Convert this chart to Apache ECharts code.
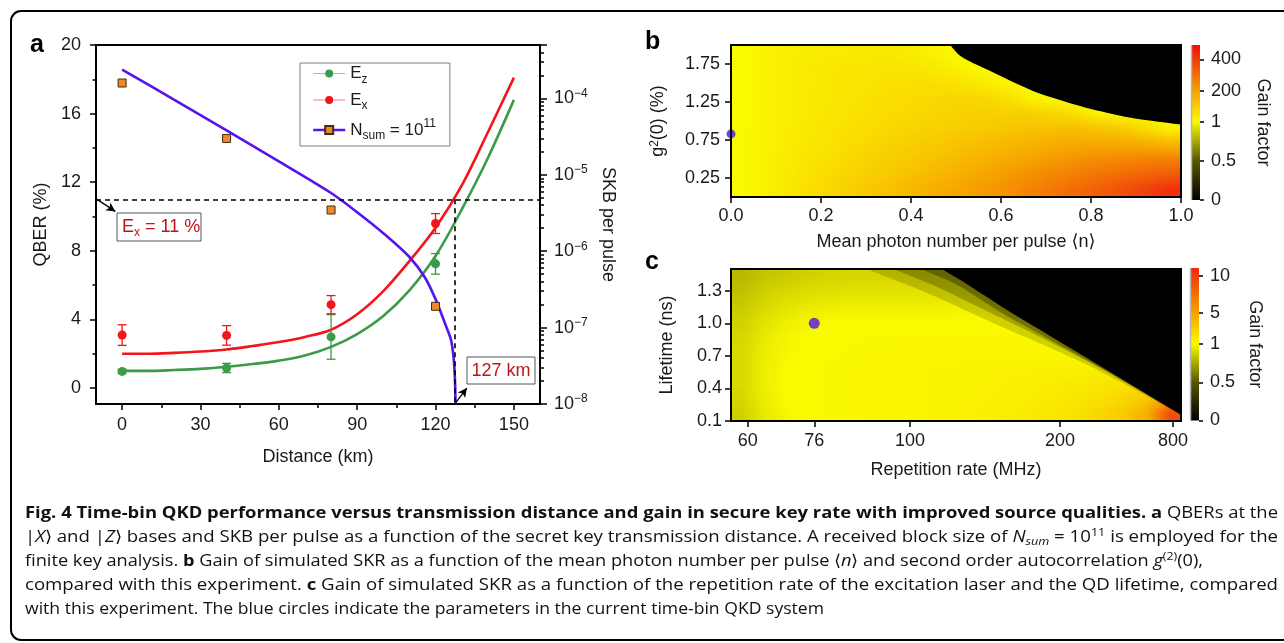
<!DOCTYPE html>
<html><head><meta charset="utf-8">
<script src="https://cdn.jsdelivr.net/npm/echarts@6/dist/echarts.min.js"></script>
<style>html,body{margin:0;padding:0;background:#fff}#c{width:1284px;height:643px}</style>
</head><body><div id="c"></div>
<script>
// ================= DATA =================
// ---- Panel a: QBER and SKB vs distance ----
const distKm = [0, 40, 80, 120];
const ezVal = [0.97, 1.17, 2.98, 7.24];
const ezErr = [0.12, 0.27, 1.3, 0.6];
const exVal = [3.09, 3.07, 4.86, 9.59];
const exErr = [0.6, 0.57, 0.53, 0.58];
const skbVal = [1.59e-4, 2.99e-5, 3.46e-6, 1.90e-7];
const fitDist = [0, 10, 20, 30, 40, 50, 60, 70, 80, 90, 100, 110, 120, 130, 140, 150];
const ezFit = [1.0, 1.0, 1.05, 1.12, 1.24, 1.4, 1.6, 1.9, 2.4, 3.15, 4.2, 5.7, 7.7, 10.4, 13.4, 16.8];
const exFit = [2.0, 2.0, 2.05, 2.13, 2.25, 2.45, 2.68, 2.98, 3.4, 4.3, 5.65, 7.4, 9.35, 11.8, 14.9, 18.1];
const skbFitDist = [0, 20, 40, 60, 80, 90, 100, 110, 116, 120, 124, 125.9, 126.8, 127.3, 127.55, 127.65];
const skbFit = [2.38e-4, 9.6e-5, 3.81e-5, 1.5e-5, 5.78e-6, 3.24e-6, 1.72e-6, 8.4e-7, 4.5e-7, 2.36e-7, 1.05e-7, 6.95e-8, 4.4e-8, 2.65e-8, 1.55e-8, 1.0e-8];
const qberLimit = 11;
const maxDist = 127.5;
const distTicks = [0, 30, 60, 90, 120, 150];
const distMinorTicks = [15, 45, 75, 105, 135];
const qberTicks = [0, 4, 8, 12, 16, 20];
const qberMinorTicks = [2, 6, 10, 14, 18];

// ---- Panel b: gain vs mean photon number <n> and g2(0) ----
const bMeanN = [0.025,0.075,0.125,0.175,0.225,0.275,0.325,0.375,0.425,0.475,0.525,0.575,0.625,0.675,0.725,0.775,0.825,0.875,0.925,0.975];
const bG2 = [1.9, 1.7, 1.5, 1.3, 1.1, 0.9, 0.7, 0.5, 0.3, 0.1];
const bGain = [
  [1,15,25,31,35,37,39,37,27,9,1,0,0,0,0,0,0,0,0,0],
  [1,17,29,37,43,47,51,51,45,31,9,1,0,0,0,0,0,0,0,0],
  [1,15,27,35,43,49,55,59,61,59,47,27,7,1,0,0,0,0,0,0],
  [1,15,27,37,45,53,61,67,73,77,79,75,53,11,1,1,0,0,0,0],
  [1,15,27,37,47,55,63,71,79,85,91,95,97,93,77,51,11,1,1,0],
  [1,17,29,41,51,61,71,81,89,97,104,112,120,126,130,130,120,101,61,17],
  [1,17,31,45,57,69,81,93,104,116,128,140,152,164,174,180,184,180,170,150],
  [1,19,35,51,65,79,93,106,120,136,152,168,184,200,216,230,240,250,256,260],
  [1,21,37,55,71,87,104,120,138,156,176,196,216,236,256,274,290,306,320,336],
  [1,21,41,61,81,101,120,140,160,180,200,220,240,264,288,312,336,360,390,420]
];
const bBoundaryN = [0.487, 0.509, 0.55, 0.598, 0.65, 0.687, 0.75, 0.798, 0.85, 0.901, 0.95, 1.0];
const bBoundaryG2 = [2.0, 1.86, 1.73, 1.597, 1.45, 1.357, 1.24, 1.161, 1.09, 1.03, 0.99, 0.952];
const bDot = [0, 0.83];
const bYTicks = [0.25, 0.75, 1.25, 1.75];
const bCbGain = [0, 0.5, 1, 200, 400];
const bCbLabels = ['0', '0.5', '1', '200', '400'];

// ---- Panel c: gain vs repetition rate and lifetime ----
const cRateTicks = [60, 76, 100, 200, 800];
const cRateTickPos = [0.037, 0.185, 0.398, 0.731, 0.982];   // position along the axis (0..1)
const cColPos = [0.025,0.075,0.125,0.175,0.225,0.275,0.325,0.375,0.425,0.475,0.525,0.575,0.625,0.675,0.725,0.775,0.825,0.875,0.925,0.975];
const cLifetime = [1.43, 1.29, 1.15, 1.01, 0.87, 0.73, 0.59, 0.45, 0.31, 0.17];
const cGain = [
  [0.8,0.84,0.86,0.875,0.885,0.89,0.89,0.89,0.89,0.9,0.925,0,0,0,0,0,0,0,0,0],
  [0.825,0.87,0.895,0.91,0.92,0.925,0.93,0.93,0.93,0.935,0.94,0.95,0,0,0,0,0,0,0,0],
  [0.85,0.9,0.93,0.95,0.96,0.965,0.965,0.965,0.965,0.97,0.975,0.98,0.985,0,0,0,0,0,0,0],
  [0.875,0.93,0.965,0.985,1,1,1,1,1,1,1,1,1,1,0,0,0,0,0,0],
  [0.89,0.95,0.985,1,1.04,1.06,1.08,1.1,1.1,1.1,1.1,1.1,1.08,1.04,1,0,0,0,0,0],
  [0.9,0.96,0.99,1.02,1.06,1.08,1.1,1.12,1.14,1.16,1.18,1.2,1.2,1.16,1.1,1.04,1,0,0,0],
  [0.9,0.965,1,1.04,1.08,1.12,1.16,1.2,1.24,1.28,1.3,1.32,1.34,1.36,1.4,1.44,1.5,1.6,0,0],
  [0.9,0.965,1,1.04,1.08,1.12,1.16,1.2,1.24,1.28,1.32,1.36,1.42,1.5,1.6,1.72,1.86,2.0,2.2,0],
  [0.89,0.96,1,1.04,1.08,1.12,1.16,1.2,1.24,1.28,1.34,1.4,1.48,1.6,1.76,1.96,2.24,2.6,3.2,5.0],
  [0.875,0.95,0.99,1.04,1.08,1.12,1.16,1.2,1.24,1.28,1.36,1.44,1.56,1.72,1.92,2.2,2.6,3.2,4.4,9.0]
];
const cBoundaryPos = [0.468, 0.509, 0.6, 0.7, 0.8, 0.9, 1.0];
const cBoundaryLife = [1.5, 1.40, 1.158, 0.907, 0.658, 0.408, 0.158];
const cFade1Pos = [0.30, 0.40, 0.5, 0.6, 0.7, 0.8, 0.9, 1.0];
const cFade1Life = [1.5, 1.34, 1.16, 0.97, 0.79, 0.6, 0.385, 0.155];
const cFade2Pos = [0.36, 0.45, 0.55, 0.65, 0.75, 0.85, 0.95, 1.0];
const cFade2Life = [1.5, 1.35, 1.15, 0.95, 0.74, 0.52, 0.28, 0.156];
const cFade3Pos = [0.42, 0.5, 0.6, 0.7, 0.8, 0.9, 1.0];
const cFade3Life = [1.5, 1.36, 1.1, 0.87, 0.64, 0.40, 0.157];
const cDot = [76, 1.0];
const cYTicks = [0.1, 0.4, 0.7, 1.0, 1.3];
const cCbGain = [0, 0.5, 1, 5, 10];
const cCbLabels = ['0', '0.5', '1', '5', '10'];

// ================= STYLE / HELPERS =================
const FF = '"Liberation Sans", Arial, Helvetica, "DejaVu Sans", sans-serif';
const CF = '"Open Sans", "Noto Sans", sans-serif';
const TXT = '#1a1a1a';
const GREEN = '#3c9a48', RED = '#f4141b', BLUE = '#5514ee', ORANGE = '#e98a2b', DARKRED = '#c0141c';
const zip = (a, b) => a.map((v, i) => [v, b[i]]);

// colour scale (level 0..4 = colour-bar tick index)
const cmapT = [0, 1, 2, 3, 4, 4.5];
const cmapC = ['#000000', '#575700', '#fafa00', '#f6a200', '#f03c0c', '#ff0000'];
function hex2rgb(h){return [parseInt(h.slice(1,3),16),parseInt(h.slice(3,5),16),parseInt(h.slice(5,7),16)];}
function colorAtT(t){
  t = Math.max(0, Math.min(4.5, t));
  for (let i = 0; i < cmapT.length - 1; i++) {
    if (t <= cmapT[i+1]) {
      const f = (t - cmapT[i]) / (cmapT[i+1] - cmapT[i]);
      const a = hex2rgb(cmapC[i]), b = hex2rgb(cmapC[i+1]);
      return 'rgb(' + a.map((v, k) => Math.round(v + (b[k]-v)*f)).join(',') + ')';
    }
  }
  return cmapC[cmapC.length-1];
}
function gainToLevel(g, ticks){
  for (let i = 0; i < ticks.length - 1; i++) if (g <= ticks[i+1]) return i + (g - ticks[i]) / (ticks[i+1] - ticks[i]);
  const n = ticks.length - 1; return n + (g - ticks[n]) / (ticks[n] - ticks[n-1]);
}
function rateToPos(rate){
  for (let i = 0; i < cRateTicks.length - 1; i++) if (rate <= cRateTicks[i+1])
    return cRateTickPos[i] + (rate - cRateTicks[i]) / (cRateTicks[i+1] - cRateTicks[i]) * (cRateTickPos[i+1] - cRateTickPos[i]);
  return cRateTickPos[cRateTickPos.length-1];
}
function levelGrid(rows, ticks){
  return rows.slice().reverse().map(row => row.map(g => g > 0 ? Math.min(4.5, gainToLevel(g, ticks)) : null));
}
function levelAt(grid, xs, ys, x, y){
  const nC = xs.length, nR = ys.length, dx = xs[1]-xs[0], dy = ys[1]-ys[0];
  let fx = Math.max(0, Math.min(nC-1, (x - xs[0]) / dx));
  let fy = Math.max(0, Math.min(nR-1, (y - ys[0]) / dy));
  const i0 = Math.floor(fx), j0 = Math.floor(fy), i1 = Math.min(i0+1, nC-1), j1 = Math.min(j0+1, nR-1);
  const tx = fx - i0, ty = fy - j0;
  const pts = [[i0,j0,(1-tx)*(1-ty)],[i1,j0,tx*(1-ty)],[i0,j1,(1-tx)*ty],[i1,j1,tx*ty]];
  let s = 0, w = 0, s2 = 0, n2 = 0;
  pts.forEach(([i,j,ww]) => { const v = grid[j][i]; if (v != null) { s += v*ww; w += ww; s2 += v; n2++; } });
  if (w > 1e-9) return s / w;
  return n2 ? s2 / n2 : 2;
}
function heatRender(grid, xs, ys, hw, hh){
  return function(params, api){
    const x = api.value(0), y = api.value(1), g = api.value(2);
    if (!(g > 0)) return null;
    const S = 5, children = [];
    const x0 = x - hw, x1 = x + hw;
    for (let s = 0; s < S; s++){
      const ya = y + hh - 2*hh*s/S, yb = y + hh - 2*hh*(s+1)/S, ym = (ya + yb) / 2;
      const pA = api.coord([x0, ya]), pB = api.coord([x1, yb]);
      const cl = colorAtT(levelAt(grid, xs, ys, x0, ym)), cm = colorAtT(levelAt(grid, xs, ys, x, ym)), cr = colorAtT(levelAt(grid, xs, ys, x1, ym));
      children.push({type:'rect', shape:{x:pA[0]-0.5, y:pA[1]-0.5, width:pB[0]-pA[0]+1, height:pB[1]-pA[1]+1},
        style:{fill:{type:'linear', x:0, y:0, x2:1, y2:0, colorStops:[{offset:0,color:cl},{offset:0.5,color:cm},{offset:1,color:cr}]}}});
    }
    return {type:'group', children};
  };
}
function cells(xs, ys, rows){ const out = []; rows.forEach((row, r) => row.forEach((g, c) => out.push([xs[c], ys[r], g]))); return out; }

const logMax = 5e-4;
const logMinor = [];
for (let e = -8; e <= -4; e++) for (let k = 2; k <= 9; k++) { const v = Math.log10(k) + e; if (v <= Math.log10(logMax)) logMinor.push(v); }

// ================= LAYOUT =================
const G = {
  a: {left: 96, top: 45, width: 444, height: 359},
  b: {left: 731, top: 45, width: 450, height: 152},
  c: {left: 731, top: 269, width: 450, height: 152},
  cbB: {left: 1192, top: 45, width: 8, height: 155},
  cbC: {left: 1191, top: 268, width: 8, height: 152.4}
};
const bCbPos = [0, 39, 78.3, 109, 140.7];
const cCbPos = [0, 38, 76.4, 107.4, 144.7];

const lab = {fontSize: 18, color: TXT, fontFamily: FF};
const nameStyle = {fontSize: 18, color: TXT, fontFamily: FF};
const axLine = {show: true, onZero: false, lineStyle: {color: '#000', width: 2}};
const noLine = {show: false, onZero: false};
const tick = (len, vals) => ({show: true, length: len, lineStyle: {color: '#000', width: 1.5}, customValues: vals});

const grids = ['a','b','c','cbB','cbC'].map((k, i) => Object.assign({show: true, borderColor: i < 3 ? '#000' : 'transparent', borderWidth: 2,
  backgroundColor: 'transparent', z: 6, outerBoundsMode: 'none', containLabel: false}, G[k]));

const xAxes = [
  {type:'value', gridIndex:0, position:'bottom', min:-10, max:160, axisLine:axLine, axisTick:tick(6, distTicks),
   axisLabel:Object.assign({customValues: distTicks, margin: 12}, lab), splitLine:{show:false},
   name:'Distance (km)', nameLocation:'middle', nameGap:44, nameTextStyle:nameStyle, z:10},
  {type:'value', gridIndex:0, position:'bottom', min:-10, max:160, axisLine:noLine, axisTick:tick(4, distMinorTicks), axisLabel:{show:false}, splitLine:{show:false}, z:10},
  {type:'value', gridIndex:1, position:'bottom', min:0, max:1, interval:0.2, axisLine:axLine, axisTick:{show:true, length:6, lineStyle:{color:'#000', width:1.5}},
   axisLabel:Object.assign({formatter: v => v.toFixed(1), margin: 10}, lab), splitLine:{show:false},
   name:'Mean photon number per pulse \u27e8n\u27e9', nameLocation:'middle', nameGap:36, nameTextStyle:nameStyle, z:10},
  {type:'value', gridIndex:2, position:'bottom', min:0, max:1, axisLine:axLine, axisTick:tick(6, cRateTickPos),
   axisLabel:Object.assign({customValues: cRateTickPos, margin: 11, formatter: v => {
     let bi = 0; cRateTickPos.forEach((p, i) => { if (Math.abs(p - v) < Math.abs(cRateTickPos[bi] - v)) bi = i; }); return String(cRateTicks[bi]); }}, lab),
   splitLine:{show:false}, name:'Repetition rate (MHz)', nameLocation:'middle', nameGap:40, nameTextStyle:nameStyle, z:10},
  {type:'value', gridIndex:3, show:false, min:0, max:1},
  {type:'value', gridIndex:4, show:false, min:0, max:1}
];

const supRich = {n:{fontSize:18, color:TXT, fontFamily:FF, lineHeight:22}, sup:{fontSize:12, color:TXT, fontFamily:FF, verticalAlign:'top', lineHeight:12}};
const yAxes = [
  {type:'value', gridIndex:0, position:'left', min:-0.93, max:20, axisLine:axLine, axisTick:tick(6, qberTicks),
   axisLabel:Object.assign({customValues: qberTicks, margin: 15}, lab), splitLine:{show:false},
   name:'QBER (%)', nameLocation:'middle', nameRotate:90, nameGap:46, nameTextStyle:nameStyle, z:10},
  {type:'value', gridIndex:0, position:'left', min:-0.93, max:20, axisLine:noLine, axisTick:tick(3.5, qberMinorTicks), axisLabel:{show:false}, splitLine:{show:false}, z:10},
  {type:'log', gridIndex:0, min:1e-8, max:logMax, position:'right', logBase:10, axisLine:axLine,
   axisTick:{show:true, length:7, lineStyle:{color:'#000', width:1.5}},
   axisLabel:{margin:14, formatter: v => { const l = Math.log10(v), e = Math.round(l); if (Math.abs(l - e) > 0.02) return ''; return '{n|10}{sup|' + (e < 0 ? '\u2212' : '') + Math.abs(e) + '}'; }, rich:supRich},
   splitLine:{show:false}, minorTick:{show:false},
   name:'SKB per pulse', nameLocation:'middle', nameRotate:-90, nameGap:59, nameTextStyle:nameStyle, z:10},
  {type:'value', gridIndex:0, min:-8, max:Math.log10(logMax), position:'right', axisLine:noLine, axisTick:tick(4, logMinor), axisLabel:{show:false}, splitLine:{show:false}, z:10},
  {type:'value', gridIndex:1, position:'left', min:0, max:2, axisLine:axLine, axisTick:tick(6, bYTicks),
   axisLabel:Object.assign({customValues: bYTicks, margin: 11, formatter: v => v.toFixed(2)}, lab), splitLine:{show:false},
   name:'g{sup|2}(0) (%)', nameLocation:'middle', nameRotate:90, nameGap:64,
   nameTextStyle:Object.assign({rich:{sup:{fontSize:12, color:TXT, fontFamily:FF, verticalAlign:'top', lineHeight:12}}}, nameStyle), z:10},
  {type:'value', gridIndex:2, position:'left', min:0.1, max:1.5, axisLine:axLine, axisTick:tick(6, cYTicks),
   axisLabel:Object.assign({customValues: cYTicks, margin: 9, formatter: v => v.toFixed(1)}, lab), splitLine:{show:false},
   name:'Lifetime (ns)', nameLocation:'middle', nameRotate:90, nameGap:55, nameTextStyle:nameStyle, z:10},
  {type:'value', gridIndex:3, min:0, max:155, position:'right', axisLine:noLine, axisTick:tick(4, bCbPos),
   axisLabel:Object.assign({customValues: bCbPos, margin: 11, formatter: v => { const i = bCbPos.indexOf(v); return i >= 0 ? bCbLabels[i] : ''; }}, lab),
   splitLine:{show:false}, name:'Gain factor', nameLocation:'middle', nameRotate:-90, nameGap:54, nameTextStyle:nameStyle, z:10},
  {type:'value', gridIndex:4, min:0, max:152.4, position:'right', axisLine:noLine, axisTick:tick(4, cCbPos),
   axisLabel:Object.assign({customValues: cCbPos, margin: 11, formatter: v => { const i = cCbPos.indexOf(v); return i >= 0 ? cCbLabels[i] : ''; }}, lab),
   splitLine:{show:false}, name:'Gain factor', nameLocation:'middle', nameRotate:-90, nameGap:47, nameTextStyle:nameStyle, z:10}
];

// ================= SERIES =================
const series = [];
const add = s => (series.push(s), series.length - 1);
function errRender(color){
  return function(params, api){
    const x = api.value(0), lo = api.value(1), hi = api.value(2);
    const pH = api.coord([x, hi]), pL = api.coord([x, lo]);
    const hw = 4.5, st = {stroke: color, lineWidth: 1.3};
    return {type:'group', children:[
      {type:'line', shape:{x1:pH[0], y1:pH[1], x2:pL[0], y2:pL[1]}, style:st},
      {type:'line', shape:{x1:pH[0]-hw, y1:pH[1], x2:pH[0]+hw, y2:pH[1]}, style:st},
      {type:'line', shape:{x1:pL[0]-hw, y1:pL[1], x2:pL[0]+hw, y2:pL[1]}, style:st}
    ]};
  };
}
// panel a
add({type:'line', name:'Ez fit', xAxisIndex:0, yAxisIndex:0, data:zip(fitDist, ezFit), smooth:0.35, symbol:'none', lineStyle:{color:GREEN, width:2.6}, z:3, silent:true});
add({type:'line', name:'Ex fit', xAxisIndex:0, yAxisIndex:0, data:zip(fitDist, exFit), smooth:0.35, symbol:'none', lineStyle:{color:RED, width:2.6}, z:3, silent:true});
add({type:'line', name:'SKB fit', xAxisIndex:0, yAxisIndex:2, data:zip(skbFitDist, skbFit), smooth:0.3, symbol:'none', lineStyle:{color:BLUE, width:2.6}, z:3, silent:true});
add({type:'custom', name:'Ez err', xAxisIndex:0, yAxisIndex:0, renderItem:errRender(GREEN), encode:{x:0, y:[1,2]},
  data: distKm.map((d, i) => [d, ezVal[i] - ezErr[i], ezVal[i] + ezErr[i]]), z:4, silent:true});
add({type:'custom', name:'Ex err', xAxisIndex:0, yAxisIndex:0, renderItem:errRender(RED), encode:{x:0, y:[1,2]},
  data: distKm.map((d, i) => [d, exVal[i] - exErr[i], exVal[i] + exErr[i]]), z:4, silent:true});
add({type:'line', name:'E_z', xAxisIndex:0, yAxisIndex:0, data:zip(distKm, ezVal), symbol:'circle', symbolSize:9, showSymbol:true,
  itemStyle:{color:GREEN}, lineStyle:{width:0, color:GREEN}, z:5, silent:true});
add({type:'line', name:'E_x', xAxisIndex:0, yAxisIndex:0, data:zip(distKm, exVal), symbol:'circle', symbolSize:9, showSymbol:true,
  itemStyle:{color:RED}, lineStyle:{width:0, color:RED}, z:5, silent:true,
  markLine:{silent:true, symbol:['none','none'], label:{show:false}, animation:false,
    lineStyle:{color:'#000', type:[5,4], width:1.6},
    data:[
      [{coord:[-10, qberLimit]}, {coord:[160, qberLimit]}],
      [{coord:[maxDist, qberLimit]}, {coord:[maxDist, -0.93]}],
      [{coord:[-9.6, 11], symbol:'none', lineStyle:{type:'solid', width:1.3, color:'#000'}}, {coord:[-2.6, 10.3], symbol:'arrow', symbolSize:[7,9]}],
      [{coord:[127.6, -0.88], symbol:'none', lineStyle:{type:'solid', width:1.3, color:'#000'}}, {coord:[132.0, 0.0], symbol:'arrow', symbolSize:[7,9]}]
    ]}});
add({type:'line', name:'N_sum', xAxisIndex:0, yAxisIndex:2, data:zip(distKm, skbVal), symbol:'rect', symbolSize:8, showSymbol:true,
  itemStyle:{color:ORANGE, borderColor:'#4a2a10', borderWidth:1}, lineStyle:{width:0, color:BLUE}, z:5, silent:true});
// panel b
const bYs = bG2.slice().reverse();
add({type:'custom', xAxisIndex:2, yAxisIndex:4, renderItem:heatRender(levelGrid(bGain, bCbGain), bMeanN, bYs, 0.025, 0.1),
  encode:{x:0, y:1}, data:cells(bMeanN, bG2, bGain), z:1, silent:true, clip:true});
add({type:'line', xAxisIndex:2, yAxisIndex:4, data:zip(bBoundaryN, bBoundaryG2), smooth:0.3, symbol:'none', lineStyle:{width:0},
  areaStyle:{color:'#000', opacity:1, origin:'end'}, z:3, silent:true});
add({type:'scatter', xAxisIndex:2, yAxisIndex:4, data:[bDot], symbolSize:9, itemStyle:{color:'#4f14e8'}, z:4, silent:true});
// panel c
const cYs = cLifetime.slice().reverse();
add({type:'custom', xAxisIndex:3, yAxisIndex:5, renderItem:heatRender(levelGrid(cGain, cCbGain), cColPos, cYs, 0.025, 0.07),
  encode:{x:0, y:1}, data:cells(cColPos, cLifetime, cGain), z:1, silent:true, clip:true});
[[cFade1Pos, cFade1Life, 'rgba(0,0,0,0.16)'], [cFade2Pos, cFade2Life, 'rgba(0,0,0,0.22)'], [cFade3Pos, cFade3Life, 'rgba(0,0,0,0.3)'], [cBoundaryPos, cBoundaryLife, '#000']]
  .forEach(([p, l, col]) => add({type:'line', xAxisIndex:3, yAxisIndex:5, data:zip(p, l), smooth:0.3, symbol:'none', lineStyle:{width:0},
    areaStyle:{color:col, opacity:1, origin:'end'}, z:2, silent:true}));
add({type:'scatter', xAxisIndex:3, yAxisIndex:5, data:[[rateToPos(cDot[0]), cDot[1]]], symbolSize:11, itemStyle:{color:'#4f14e8'}, z:4, silent:true});

// ================= GRAPHICS (frame, labels, colour bars, caption) =================
function cbGradient(pos, height){
  const topT = 4 + (height - pos[4]) / (pos[4] - pos[3]);
  const stops = [{offset:0, color:colorAtT(Math.min(4.5, topT))}];
  for (let i = 4; i >= 0; i--) stops.push({offset:1 - pos[i] / height, color:colorAtT(i)});
  return {type:'linear', x:0, y:0, x2:0, y2:1, colorStops:stops};
}
const cap = [
  [['b','Fig. 4 Time-bin QKD performance versus transmission distance and gain in secure key rate with improved source qualities. a'], ['n',' QBERs at the']],
  [['n','|'],['i','X'],['n','\u27e9 and |'],['i','Z'],['n','\u27e9 bases and SKB per pulse as a function of the secret key transmission distance. A received block size of '],['i','N'],['isub','sum'],['n',' = 10'],['sup','11'],['n',' is employed for the']],
  [['n','finite key analysis. '],['b','b'],['n',' Gain of simulated SKR as a function of the mean photon number per pulse \u27e8'],['i','n'],['n','\u27e9 and second order autocorrelation '],['i','g'],['sup','(2)'],['n','(0),']],
  [['n','compared with this experiment. '],['b','c'],['n',' Gain of simulated SKR as a function of the repetition rate of the excitation laser and the QD lifetime, compared']],
  [['n','with this experiment. The blue circles indicate the parameters in the current time-bin QKD system']]
];
const capY = [513, 537, 561, 585, 609];
const capRight = [1278, 1278, 1203, 1278, 824];
const CAPSIZE = 16;
const mctx = document.createElement('canvas').getContext('2d');
function segFont(st){
  const small = (st === 'sup' || st === 'isub');
  const fs = small ? CAPSIZE * 0.68 : CAPSIZE;
  return ((st === 'i' || st === 'isub') ? 'italic ' : '') + (st === 'b' ? 'bold ' : '') + fs + 'px ' + CF;
}
const capRich = {
  n:{fontSize:CAPSIZE, fontFamily:CF, fill:'#111', lineHeight:20},
  b:{fontSize:CAPSIZE, fontFamily:CF, fontWeight:'bold', fill:'#111', lineHeight:20},
  i:{fontSize:CAPSIZE, fontFamily:CF, fontStyle:'italic', fill:'#111', lineHeight:20},
  isub:{fontSize:CAPSIZE*0.68, fontFamily:CF, fontStyle:'italic', fill:'#111', verticalAlign:'bottom', lineHeight:12},
  sup:{fontSize:CAPSIZE*0.68, fontFamily:CF, fill:'#111', verticalAlign:'top', lineHeight:12}
};
const capEls = cap.map((segs, li) => {
  let w = 0; segs.forEach(([st, t]) => { mctx.font = segFont(st); w += mctx.measureText(t).width; });
  const sx = (capRight[li] - 25) / w;
  return {type:'text', x:25, y:capY[li], scaleX:sx, originX:0, z:20,
    style:{text: segs.map(([st, t]) => '{' + st + '|' + t + '}').join(''), rich:capRich, x:0, y:0, verticalAlign:'middle', align:'left'}};
});

const graphics = [
  {type:'rect', shape:{x:11, y:11, width:1300, height:629, r:10}, style:{fill:'none', stroke:'#000', lineWidth:2}, z:-5, silent:true},
  {type:'text', x:30, y:33, style:{text:'a', font:'bold 25px ' + FF, fill:'#000'}, z:20},
  {type:'text', x:645, y:30, style:{text:'b', font:'bold 25px ' + FF, fill:'#000'}, z:20},
  {type:'text', x:645, y:250, style:{text:'c', font:'bold 25px ' + FF, fill:'#000'}, z:20},
  {type:'group', x:117, y:213, z:20, children:[
    {type:'rect', shape:{x:0, y:0, width:84, height:28}, style:{fill:'#fff', stroke:'#555', lineWidth:1}},
    {type:'text', x:5, y:14, style:{text:'{m|E}{s|x}{m| = 11 %}', verticalAlign:'middle', rich:{
      m:{fontSize:18, fontFamily:FF, fill:DARKRED, lineHeight:24}, s:{fontSize:12, fontFamily:FF, fill:DARKRED, verticalAlign:'bottom', lineHeight:12}}}}
  ]},
  {type:'group', x:467, y:357, z:20, children:[
    {type:'rect', shape:{x:0, y:0, width:68, height:27}, style:{fill:'#fff', stroke:'#555', lineWidth:1}},
    {type:'text', x:34, y:14, style:{text:'127 km', font:'18px ' + FF, fill:DARKRED, align:'center', verticalAlign:'middle'}}
  ]},
  {type:'rect', shape:{x:G.cbB.left, y:G.cbB.top, width:G.cbB.width, height:G.cbB.height}, style:{fill:cbGradient(bCbPos, G.cbB.height)}, z:5},
  {type:'line', shape:{x1:G.cbB.left - 0.5, y1:G.cbB.top, x2:G.cbB.left - 0.5, y2:G.cbB.top + G.cbB.height}, style:{stroke:'#b5b5b5', lineWidth:1.5}, z:5},
  {type:'rect', shape:{x:G.cbC.left, y:G.cbC.top, width:G.cbC.width, height:G.cbC.height}, style:{fill:cbGradient(cCbPos, G.cbC.height)}, z:5},
  {type:'line', shape:{x1:G.cbC.left - 0.5, y1:G.cbC.top, x2:G.cbC.left - 0.5, y2:G.cbC.top + G.cbC.height}, style:{stroke:'#b5b5b5', lineWidth:1.5}, z:5}
].concat(capEls);

const legendRich = {
  m:{fontSize:17, fontFamily:FF, color:TXT, lineHeight:24},
  s:{fontSize:12, fontFamily:FF, color:TXT, verticalAlign:'bottom', lineHeight:12},
  p:{fontSize:12, fontFamily:FF, color:TXT, verticalAlign:'top', lineHeight:12}
};
const legendNames = {E_z:'{m|E}{s|z}', E_x:'{m|E}{s|x}', N_sum:'{m|N}{s|sum}{m| = 10}{p|11}'};

const option = {
  animation:false,
  backgroundColor:'#fff',
  textStyle:{fontFamily:FF},
  grid:grids,
  xAxis:xAxes,
  yAxis:yAxes,
  legend:{
    data:[
      {name:'E_z', lineStyle:{width:1.2, color:GREEN, opacity:0.55}},
      {name:'E_x', lineStyle:{width:1.2, color:RED, opacity:0.55}},
      {name:'N_sum', lineStyle:{width:2.4, color:BLUE, opacity:1}}
    ],
    orient:'vertical', left:300, top:63, itemWidth:32, itemHeight:10, itemGap:6,
    padding:[2,14,4,12], borderColor:'#808080', borderWidth:1, borderRadius:0, backgroundColor:'#fff',
    selectedMode:false, formatter: n => legendNames[n] || n,
    textStyle:{fontSize:17, color:TXT, fontFamily:FF, rich:legendRich}, z:12
  },
  graphic:graphics,
  series:series
};
const chart = echarts.init(document.getElementById('c'), null, {renderer:'canvas', width:1284, height:643});
chart.setOption(option);
</script></body></html>
